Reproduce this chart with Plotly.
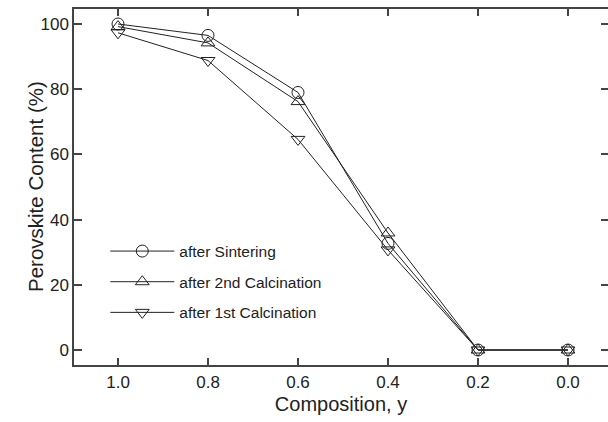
import plotly.graph_objects as go

composition = [1.0, 0.8, 0.6, 0.4, 0.2, 0.0]
sintering = [100, 96.5, 79, 32.7, 0, 0]
calc2 = [99.2, 94.2, 76.2, 35.9, 0, 0]
calc1 = [97.3, 88.8, 64.6, 30.7, 0, 0]
names = ["after Sintering", "after 2nd Calcination", "after 1st Calcination"]
symbols = ["circle-open", "triangle-up-open", "triangle-down-open"]
xticks = [1.0, 0.8, 0.6, 0.4, 0.2, 0.0]
yticks = [0, 20, 40, 60, 80, 100]

fig = go.Figure()
for i, (ys, nm, sym) in enumerate(zip([sintering, calc2, calc1], names, symbols)):
    fig.add_trace(go.Scatter(
        x=composition, y=ys, name=nm, mode="lines+markers",
        line=dict(color="#222", width=1),
        marker=dict(symbol=sym, size=12, color="#222", line=dict(width=1, color="#222")),
        legendgroup=f"g{i}",
    ))
# empty helper trace so the right-hand tick axis is drawn
fig.add_trace(go.Scatter(x=[], y=[], yaxis="y2", showlegend=False, hoverinfo="skip"))

font = "Liberation Sans, Arial, sans-serif"
yr = [-4.6, 104.6]
fig.update_layout(
    width=608, height=422,
    margin=dict(l=74, r=0, t=9, b=57),
    paper_bgcolor="white", plot_bgcolor="white",
    font=dict(family=font, color="#222", size=17),
    showlegend=True,
    legend=dict(x=0.0586, y=0.3666, xanchor="left", yanchor="top",
                bgcolor="rgba(0,0,0,0)", borderwidth=0,
                font=dict(size=15.5, family=font, color="#222"),
                itemwidth=64, tracegroupgap=7.5, traceorder="grouped"),
    xaxis=dict(range=[1.0978, -0.0889], tickvals=xticks, ticktext=[f"{v:.1f}" for v in xticks],
               ticks="inside", ticklen=7, tickwidth=1.5, tickcolor="#444",
               showline=True, linecolor="#444", linewidth=1.5, mirror="ticks",
               showgrid=False, zeroline=False, automargin=False,
               tickfont=dict(size=17), ticklabelstandoff=1,
               title=dict(text="Composition, y", font=dict(size=20), standoff=6)),
    yaxis=dict(range=yr, tickvals=yticks,
               ticks="inside", ticklen=8, tickwidth=1.5, tickcolor="#444",
               showline=True, linecolor="#444", linewidth=1.5,
               showgrid=False, zeroline=False, automargin=False,
               tickfont=dict(size=17)),
    yaxis2=dict(range=yr, tickvals=yticks, overlaying="y", side="right", anchor="x",
                ticks="inside", ticklen=7, tickwidth=1.5, tickcolor="#444",
                showline=False, showgrid=False, zeroline=False, showticklabels=False,
                automargin=False),
    annotations=[dict(text="Perovskite Content (%)", xref="paper", yref="paper",
                      x=-0.073, y=0.5, textangle=-90, showarrow=False,
                      xanchor="center", yanchor="middle",
                      font=dict(size=20.5, family=font, color="#222"))],
)
# remove the default 8px page margin and any scrollbars so the figure fills the window
post = ("document.body.style.margin='0';"
        "document.documentElement.style.overflow='hidden';"
        "document.body.style.overflow='hidden';")
fig.write_html("out.html", post_script=post, config={"displayModeBar": False})
